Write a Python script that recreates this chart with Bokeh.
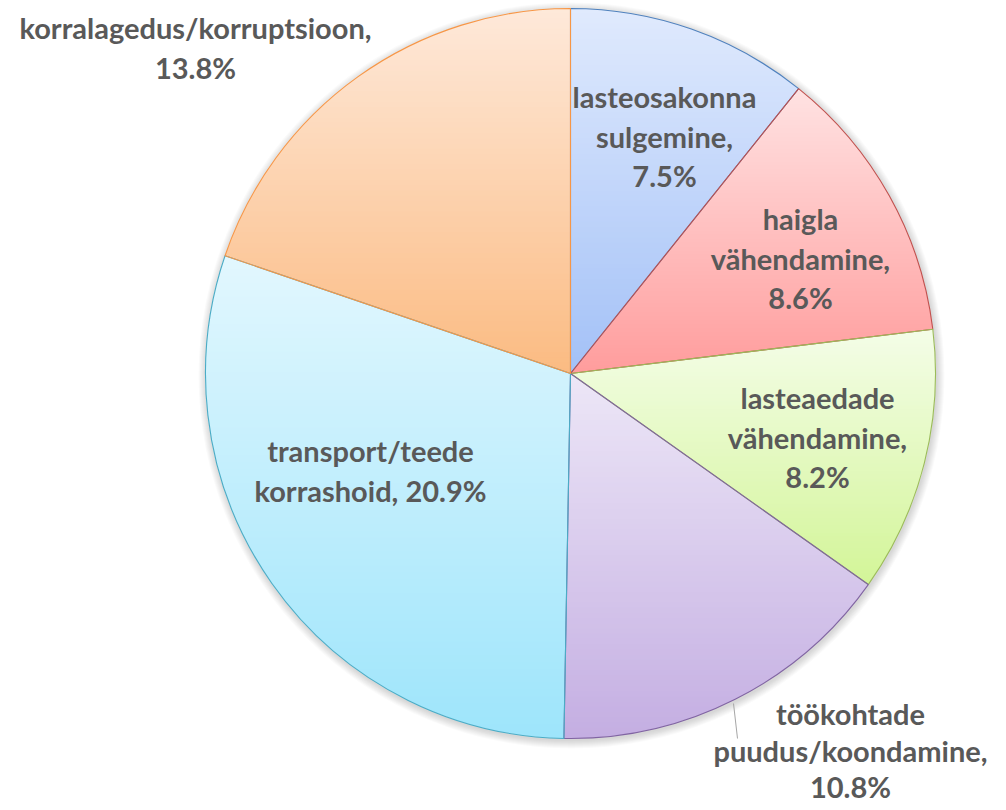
import numpy as np
from bokeh.plotting import figure
from bokeh.models import Range1d
from bokeh.core.properties import value
from bokeh.embed import file_html
from bokeh.resources import INLINE

# ---- data ----
categories = ["lasteosakonna sulgemine", "haigla vähendamine", "lasteaedade vähendamine",
              "töökohtade puudus/koondamine", "transport/teede korrashoid", "korralagedus/korruptsioon"]
values = [7.5, 8.6, 8.2, 10.8, 20.9, 13.8]
label_templates = ["lasteosakonna\nsulgemine,\n{}", "haigla\nvähendamine,\n{}", "lasteaedade\nvähendamine,\n{}",
                   "töökohtade\npuudus/koondamine,\n{}", "transport/teede\nkorrashoid, {}",
                   "korralagedus/korruptsioon,\n{}"]
top_colors = ["#e0eafd", "#ffe3e3", "#f4fde8", "#ede7f7", "#e2f7fe", "#fee9da"]
bottom_colors = ["#a3c1f7", "#ff9c9c", "#d3f598", "#c4aee2", "#9ee5fb", "#fbbb82"]
border_colors = ["#4f81bd", "#c0504d", "#9bbb59", "#8064a2", "#4bacc6", "#f79646"]

# ---- layout ----
CX, CY, R = 570, -373, 365
label_pos = [(664, -96), (800, -218), (817, -397), (850, -713), (370, -450), (195, -27)]
LINE_STEPS = [39.5, 39.5, 39.5, 36.5, 39.5, 39.5]
leader = ([733, 737], [-703, -738])

p = figure(width=1006, height=810, output_backend="svg", toolbar_location=None,
           x_range=Range1d(0, 1006), y_range=Range1d(-810, 0), min_border=0)
p.axis.visible = False
p.grid.visible = False
p.outline_line_color = None
p.background_fill_color = "white"


def hex2rgb(h):
    h = h.lstrip("#")
    return np.array([int(h[i:i + 2], 16) for i in (0, 2, 4)], float)


def rgb2hex(c):
    return "#%02x%02x%02x" % tuple(int(round(v)) for v in c)


def clip_y(pts, y0, keep_above):
    out = []
    n = len(pts)
    for i in range(n):
        P, Q = pts[i], pts[(i + 1) % n]
        pin = P[1] >= y0 if keep_above else P[1] <= y0
        qin = Q[1] >= y0 if keep_above else Q[1] <= y0
        if pin:
            out.append(P)
        if pin != qin:
            t = (y0 - P[1]) / (Q[1] - P[1])
            out.append((P[0] + t * (Q[0] - P[0]), y0))
    return out


# soft shadow
for k in range(1, 9):
    p.circle(x=CX + 1, y=CY - 2, radius=R + k, fill_color="#000000", fill_alpha=0.018,
             line_color=None)
p.circle(x=CX, y=CY, radius=R, fill_color="white", line_color=None)

total = sum(values)
cum = np.concatenate([[0], np.cumsum(values)])
his = np.pi / 2 - 2 * np.pi * cum[:-1] / total
los = np.pi / 2 - 2 * np.pi * cum[1:] / total

xs, ys, cols = [], [], []
NB = 70
for i in range(len(values)):
    th = np.linspace(los[i], his[i], 120)
    poly = [(CX, CY)] + [(CX + R * np.cos(t), CY + R * np.sin(t)) for t in th]
    ymin = min(q[1] for q in poly)
    ymax = max(q[1] for q in poly)
    c_top, c_bot = hex2rgb(top_colors[i]), hex2rgb(bottom_colors[i])
    edges = np.linspace(ymax, ymin, NB + 1)
    for b in range(NB):
        yhi, ylo = edges[b], edges[b + 1]
        clipped = clip_y(clip_y(poly, ylo - 0.6, True), yhi + 0.6, False)
        if len(clipped) < 3:
            continue
        f = (b + 0.5) / NB
        col = rgb2hex(c_top + (c_bot - c_top) * f)
        xs.append([q[0] for q in clipped])
        ys.append([q[1] for q in clipped])
        cols.append(col)

p.patches(xs=xs, ys=ys, fill_color=cols, line_color=None)

p.wedge(x=CX, y=CY, radius=R, start_angle=list(los), end_angle=list(his),
        direction="anticlock", fill_alpha=0, line_color=border_colors, line_width=1.1)

# leader line
p.line(x=leader[0], y=leader[1], line_color="#a6a6a6", line_width=1)

# labels
tx, ty, tt = [], [], []
for i, v in enumerate(values):
    lines = label_templates[i].format(f"{v:.1f}%").split("\n")
    x0, y0 = label_pos[i]
    for j, ln in enumerate(lines):
        tx.append(x0)
        ty.append(y0 - j * LINE_STEPS[i])
        tt.append(ln)
p.text(x=tx, y=ty, text=tt, text_font=value("Lato"), text_font_style="bold",
       text_font_size="29px", text_color="#595959", text_align="center",
       text_baseline="middle")

open("out.html", "w").write(file_html(p, INLINE))
